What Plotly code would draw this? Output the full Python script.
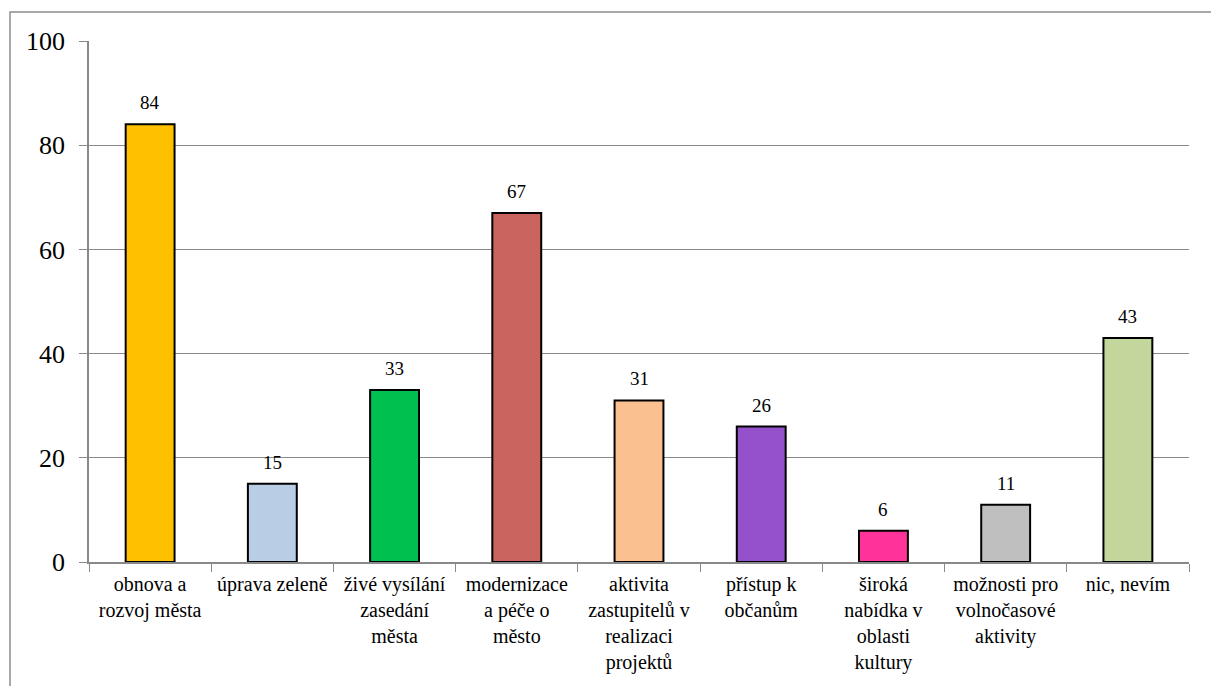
import plotly.graph_objects as go

categories = [
    "obnova a<br>rozvoj města",
    "úprava zeleně",
    "živé vysílání<br>zasedání<br>města",
    "modernizace<br>a péče o<br>město",
    "aktivita<br>zastupitelů v<br>realizaci<br>projektů",
    "přístup k<br>občanům",
    "široká<br>nabídka v<br>oblasti<br>kultury",
    "možnosti pro<br>volnočasové<br>aktivity",
    "nic, nevím",
]
values = [84, 15, 33, 67, 31, 26, 6, 11, 43]
colors = ["#FFC000", "#B9CDE5", "#00C050", "#C9645F", "#FAC090",
          "#9551CC", "#FF3399", "#BFBFBF", "#C3D69B"]
y_ticks = [0, 20, 40, 60, 80, 100]

font_family = "Liberation Serif"

fig = go.Figure(go.Bar(
    x=categories,
    y=values,
    marker=dict(color=colors, line=dict(color="#000000", width=2)),
    cliponaxis=False,
    width=0.4,
    hoverinfo="skip",
))

for c, v in zip(categories, values):
    fig.add_annotation(
        x=c, y=v, text=str(v), showarrow=False,
        yanchor="bottom", yshift=9,
        font=dict(family=font_family, size=19, color="#000000"),
    )

fig.update_layout(
    width=1211, height=686,
    margin=dict(l=89, r=22, t=41, b=122),
    paper_bgcolor="white",
    plot_bgcolor="white",
    showlegend=False,
    font=dict(family=font_family, color="#000000"),
    xaxis=dict(
        showline=True, linecolor="#898989", linewidth=1.5,
        ticks="outside", tickson="boundaries", ticklen=8, tickcolor="#898989",
        tickfont=dict(size=20, family=font_family, color="#000000"),
        ticklabelstandoff=3,
        showgrid=False,
    ),
    yaxis=dict(
        range=[0, 100], tickvals=y_ticks,
        showline=True, linecolor="#898989", linewidth=1.5,
        ticks="outside", ticklen=8, tickcolor="#898989",
        tickfont=dict(size=26, family=font_family, color="#000000"),
        ticklabelstandoff=9,
        showgrid=True, gridcolor="#898989", gridwidth=1.3,
        zeroline=False,
    ),
    shapes=[dict(
        type="rect", xref="paper", yref="paper",
        x0=(10 - 89) / 1100, x1=1.2,
        y0=-0.5, y1=(564 - 12) / 523,
        line=dict(color="#8C8C8C", width=1.5),
        fillcolor="rgba(0,0,0,0)", layer="below",
    )],
)

fig.write_html("out.html", post_script="document.body.style.margin='0';",
               config={"displayModeBar": False})
